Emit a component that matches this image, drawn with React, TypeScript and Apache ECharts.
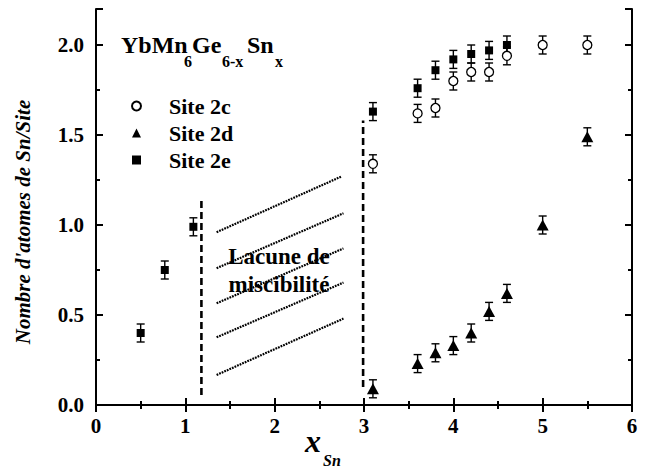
import React, { useEffect, useRef } from "react";
import * as echarts from "echarts";

const FONT = "'Liberation Serif', 'Times New Roman', serif";

const xMin = 0;
const xMax = 6;
const xStep = 1;
const yMin = 0;
const yMax = 2.2;
const yStep = 0.5;
const yMinorStep = 0.25;

const site2cX = [3.1, 3.6, 3.8, 4.0, 4.2, 4.4, 4.6, 5.0, 5.5];
const site2cY = [1.34, 1.62, 1.65, 1.8, 1.85, 1.85, 1.94, 2.0, 2.0];
const site2dX = [3.1, 3.6, 3.8, 4.0, 4.2, 4.4, 4.6, 5.0, 5.5];
const site2dY = [0.09, 0.23, 0.29, 0.33, 0.4, 0.52, 0.62, 1.0, 1.49];
const site2eX = [0.5, 0.77, 1.09, 3.1, 3.6, 3.8, 4.0, 4.2, 4.4, 4.6];
const site2eY = [0.4, 0.75, 0.99, 1.63, 1.76, 1.86, 1.92, 1.95, 1.97, 2.0];
const errSize = 0.05;

const boundaryX = [1.18, 2.99];
const boundaryYLow = [0.055, 0.1];
const boundaryYHigh = [1.14, 1.58];

const hatchXStart = [1.35, 1.35, 1.35, 1.35, 1.35];
const hatchXEnd = [2.75, 2.77, 2.77, 2.77, 2.77];
const hatchYStart = [0.96, 0.76, 0.565, 0.376, 0.167];
const hatchYEnd = [1.27, 1.065, 0.87, 0.68, 0.48];

const legendNames = ["Site 2c", "Site 2d", "Site 2e"];
const gapLabel = ["Lacune de", "miscibilité"];
const yTitle = "Nombre d'atomes de Sn/Site";
const titleTokens = ["YbMn", "6", "Ge", "6-x", "Sn", "x"];
const titleIsSub = [false, true, false, true, false, true];
const xTitleTokens = ["x", "Sn"];

// layout positions (pixels) for the title tokens
const titleTokenX = [121, 184, 192, 222, 247, 275];
const xTitleTokenX = [305, 323];

function errorSeries(xs: number[], ys: number[]) {
  return {
    type: "custom",
    silent: true,
    z: 1,
    data: xs.map((x, i) => [x, ys[i] - errSize, ys[i] + errSize]),
    encode: { x: 0, y: [1, 2] },
    renderItem: (params: any, api: any) => {
      const lo = api.coord([api.value(0), api.value(1)]);
      const hi = api.coord([api.value(0), api.value(2)]);
      const w = 4;
      const style = { stroke: "#000", lineWidth: 1.4 };
      return {
        type: "group",
        children: [
          { type: "line", shape: { x1: lo[0], y1: lo[1], x2: hi[0], y2: hi[1] }, style },
          { type: "line", shape: { x1: lo[0] - w, y1: lo[1], x2: lo[0] + w, y2: lo[1] }, style },
          { type: "line", shape: { x1: hi[0] - w, y1: hi[1], x2: hi[0] + w, y2: hi[1] }, style },
        ],
      };
    },
  };
}

export default function App() {
  const ref = useRef<HTMLDivElement>(null);
  useEffect(() => {
    document.body.style.margin = "0";
    if (!ref.current) return;
    const chart = echarts.init(ref.current, undefined, { renderer: "svg" });

    const axisLine = { show: true, lineStyle: { color: "#000", width: 2 } };
    const majorTick = { show: true, inside: true, length: 7, lineStyle: { color: "#000", width: 2 } };
    const minorTickY = { show: true, inside: true, length: 4, lineStyle: { color: "#000", width: 2 } };
    const minorTick = { show: true, splitNumber: 2, length: 4, lineStyle: { color: "#000", width: 2 } };
    const labelStyle = { color: "#000", fontFamily: FONT, fontWeight: "bold", fontSize: 21 };

    const baseX = {
      type: "value",
      min: xMin,
      max: xMax,
      interval: xStep,
      splitLine: { show: false },
      axisLine,
      axisTick: majorTick,
      minorTick,
    };
    const baseY = {
      type: "value",
      min: yMin,
      max: yMax,
      interval: yStep,
      splitLine: { show: false },
      axisLine,
      axisTick: majorTick,
    };

    const titleBase = 53;
    const titleEls = titleTokens.map((t, i) => {
      const sub = titleIsSub[i];
      const size = sub ? 16 : 24;
      const base = sub ? titleBase + 14 : titleBase;
      return {
        type: "text",
        z: 100,
        x: titleTokenX[i],
        y: base - 0.35 * size,
        style: {
          text: t,
          font: `bold ${size}px ${FONT}`,
          fill: "#000",
          align: "left",
          verticalAlign: "middle",
        },
      };
    });

    const xTitleEls = xTitleTokens.map((t, i) => {
      const size = i === 0 ? 32 : 16;
      const base = i === 0 ? 452 : 466;
      return {
        type: "text",
        z: 100,
        x: xTitleTokenX[i],
        y: base - 0.35 * size,
        style: {
          text: t,
          font: `italic bold ${size}px ${FONT}`,
          fill: "#000",
          align: "left",
          verticalAlign: "middle",
        },
      };
    });

    const graphic: any[] = [
      ...titleEls,
      ...xTitleEls,
      ...gapLabel.map((t, i) => ({
        type: "text",
        z: 100,
        x: 279,
        y: 265 + i * 28 - 0.35 * 23,
        style: { text: t, font: `bold 23px ${FONT}`, fill: "#000", align: "center", verticalAlign: "middle" },
      })),
      {
        type: "text",
        z: 100,
        x: 23,
        y: 222,
        rotation: Math.PI / 2,
        style: { text: yTitle, font: `italic bold 21px ${FONT}`, fill: "#000", align: "center", verticalAlign: "middle" },
      },
    ];

    const lineSeries = (xs: number[], ys: number[], type: any, width: number) => ({
      type: "line",
      data: xs.map((x, i) => [x, ys[i]]),
      symbol: "none",
      silent: true,
      z: 1,
      lineStyle: { color: "#000", width, type },
    });

    const option: any = {
      animation: false,
      grid: { left: 96, right: 21, top: 9, bottom: 63, containLabel: false },
      legend: {
        orient: "vertical",
        left: 126,
        top: 89,
        itemWidth: 9,
        itemHeight: 9,
        itemGap: 3,
        data: legendNames,
        selectedMode: false,
        textStyle: {
          color: "#000",
          fontFamily: FONT,
          fontWeight: "bold",
          fontSize: 22,
          lineHeight: 24,
          padding: [0, 0, 0, 23],
        },
      },
      xAxis: [
        {
          ...baseX,
          position: "bottom",
          axisLabel: { ...labelStyle, margin: 10 },
        },
        {
          ...baseX,
          position: "top",
          axisLabel: { show: false },
        },
      ],
      yAxis: [
        {
          ...baseY,
          position: "left",
          axisLabel: {
            ...labelStyle,
            margin: 12,
            formatter: (v: number) =>
              Math.abs(v * 2 - Math.round(v * 2)) < 1e-6 ? v.toFixed(1) : "",
          },
        },
        {
          ...baseY,
          position: "left",
          interval: yMinorStep,
          axisLine: { show: false },
          axisTick: minorTickY,
          axisLabel: { show: false },
        },
        {
          ...baseY,
          position: "right",
          axisLabel: { show: false },
        },
        {
          ...baseY,
          position: "right",
          interval: yMinorStep,
          axisLine: { show: false },
          axisTick: minorTickY,
          axisLabel: { show: false },
        },
      ],
      graphic,
      series: [
        ...boundaryX.map((x, i) =>
          lineSeries([x, x], [boundaryYLow[i], boundaryYHigh[i]], [7, 4], 2.6)
        ),
        ...hatchYStart.map((y, i) =>
          lineSeries([hatchXStart[i], hatchXEnd[i]], [y, hatchYEnd[i]], [1.8, 1], 2.2)
        ),
        errorSeries(site2cX, site2cY),
        errorSeries(site2dX, site2dY),
        errorSeries(site2eX, site2eY),
        {
          name: "Site 2c",
          type: "scatter",
          z: 5,
          symbol: "circle",
          symbolSize: 9,
          itemStyle: { color: "#fff", borderColor: "#000", borderWidth: 1.3, opacity: 1 },
          data: site2cX.map((x, i) => [x, site2cY[i]]),
        },
        {
          name: "Site 2d",
          type: "scatter",
          z: 5,
          symbol: "triangle",
          symbolSize: [12, 11],
          itemStyle: { color: "#000", opacity: 1 },
          data: site2dX.map((x, i) => [x, site2dY[i]]),
        },
        {
          name: "Site 2e",
          type: "scatter",
          z: 5,
          symbol: "rect",
          symbolSize: 8,
          itemStyle: { color: "#000", opacity: 1 },
          data: site2eX.map((x, i) => [x, site2eY[i]]),
        },
      ],
    };

    chart.setOption(option);
    return () => chart.dispose();
  }, []);

  return (
    <div
      ref={ref}
      style={{ position: "absolute", left: 0, top: 0, width: 653, height: 468, background: "#fff" }}
    />
  );
}
